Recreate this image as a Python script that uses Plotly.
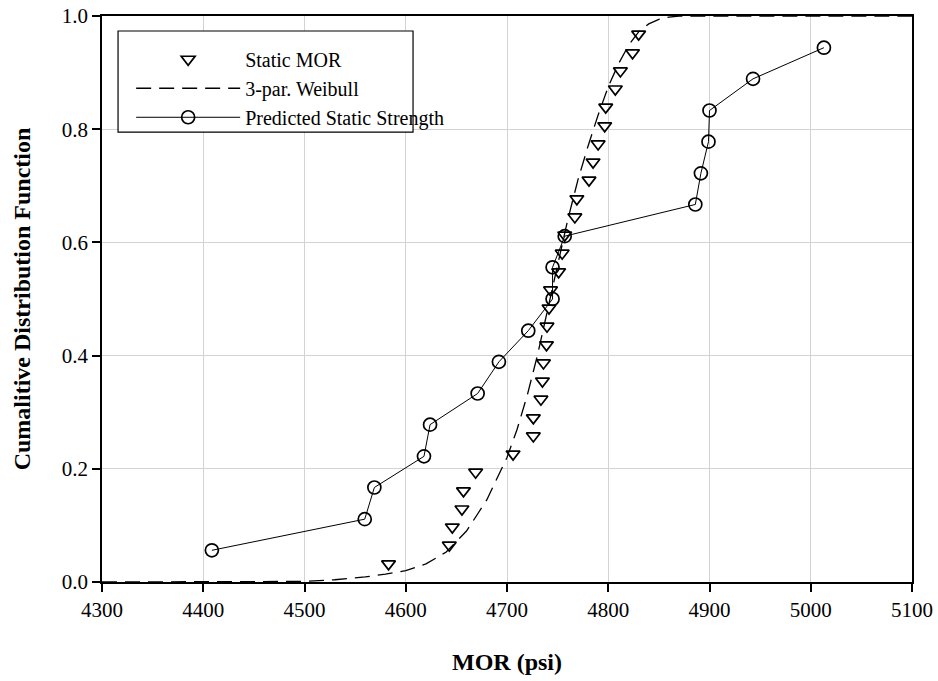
import plotly.graph_objects as go

# ---- data ----
static_mor_x = [4583, 4643, 4646, 4655.5, 4657, 4669, 4706, 4726, 4726, 4733.5,
                4735, 4736, 4739, 4739.5, 4741.5, 4743, 4751, 4754.5, 4757, 4767,
                4769, 4781, 4785, 4790, 4796.5, 4797.5, 4807, 4812, 4824, 4830]
static_mor_y = [0.032, 0.065, 0.097, 0.129, 0.161, 0.194, 0.226, 0.258, 0.290, 0.323,
                0.355, 0.387, 0.419, 0.452, 0.484, 0.516, 0.548, 0.581, 0.613, 0.645,
                0.677, 0.710, 0.742, 0.774, 0.806, 0.839, 0.871, 0.903, 0.935, 0.968]

weibull_x = [4300, 4450, 4500, 4530, 4560, 4580, 4600, 4620, 4640, 4660, 4680, 4700,
             4710, 4720, 4730, 4740, 4750, 4760, 4770, 4780, 4790, 4800, 4810, 4820,
             4830, 4840, 4850, 4860, 4870, 5100]
weibull_y = [0.0, 0.0, 0.001, 0.004, 0.009, 0.014, 0.02, 0.032, 0.053, 0.09, 0.145, 0.22,
             0.27, 0.33, 0.40, 0.48, 0.56, 0.64, 0.71, 0.77, 0.825, 0.875, 0.915, 0.948,
             0.972, 0.986, 0.994, 0.998, 1.0, 1.0]

pred_x = [4408.5, 4559.5, 4569, 4618, 4624, 4671, 4692, 4721, 4745, 4745, 4757,
          4886, 4891.5, 4899, 4900, 4943, 5013]
pred_y = [0.056, 0.111, 0.167, 0.222, 0.278, 0.333, 0.389, 0.444, 0.500, 0.556, 0.611,
          0.667, 0.722, 0.778, 0.833, 0.889, 0.944]

x_ticks = [4300, 4400, 4500, 4600, 4700, 4800, 4900, 5000, 5100]
y_ticks = [0.0, 0.2, 0.4, 0.6, 0.8, 1.0]

FONT = "Times New Roman, Liberation Serif, Tinos, DejaVu Serif, Noto Serif, serif"

fig = go.Figure()
fig.add_trace(go.Scatter(
    x=static_mor_x, y=static_mor_y, mode="markers", name="Static MOR",
    marker=dict(symbol="triangle-down-open", size=12, color="black",
                line=dict(width=1.7, color="black")),
))
fig.add_trace(go.Scatter(
    x=weibull_x, y=weibull_y, mode="lines", name="3-par. Weibull",
    line=dict(color="black", width=1.3, dash="15px,8px"),
))
fig.add_trace(go.Scatter(
    x=pred_x, y=pred_y, mode="lines+markers", name="Predicted Static Strength",
    line=dict(color="black", width=1),
    marker=dict(symbol="circle-open", size=13, color="black",
                line=dict(width=1.7, color="black")),
))

# legend box
fig.add_shape(type="rect", xref="paper", yref="paper",
              x0=0.0198, x1=0.384, y0=0.795, y1=0.9735,
              line=dict(color="black", width=1.2), fillcolor="white", layer="above")

fig.update_layout(
    width=938, height=681,
    margin=dict(l=102, r=26, t=16, b=99),
    paper_bgcolor="white", plot_bgcolor="white",
    font=dict(family=FONT, size=20, color="black"),
    showlegend=True,
    legend=dict(x=0.036, y=0.958, xanchor="left", yanchor="top",
                bgcolor="rgba(0,0,0,0)", borderwidth=0,
                font=dict(family=FONT, size=20, color="black"),
                itemwidth=104, tracegroupgap=0),
    xaxis=dict(range=[4300, 5100], tickvals=x_ticks, ticktext=[str(v) for v in x_ticks],
               automargin=False,
               showgrid=True, gridcolor="#d3d3d3", gridwidth=1,
               showline=True, linecolor="black", linewidth=1.5, mirror=True,
               ticks="outside", ticklen=8, tickwidth=1.5, tickcolor="black",
               tickfont=dict(family=FONT, size=21),
               zeroline=False,
               title=dict(text="<b>MOR (psi)</b>", font=dict(family=FONT, size=24),
                          standoff=32)),
    yaxis=dict(range=[0, 1.0], tickvals=y_ticks, ticktext=[f"{v:.1f}" for v in y_ticks],
               automargin=False,
               showgrid=True, gridcolor="#d3d3d3", gridwidth=1,
               showline=True, linecolor="black", linewidth=1.5, mirror=True,
               ticks="outside", ticklen=8, tickwidth=1.5, tickcolor="black",
               tickfont=dict(family=FONT, size=21),
               zeroline=False,
               title=dict(text="<b>Cumalitive Distribution Function</b>",
                          font=dict(family=FONT, size=24), standoff=24)),
)

fig.write_html("out.html")
